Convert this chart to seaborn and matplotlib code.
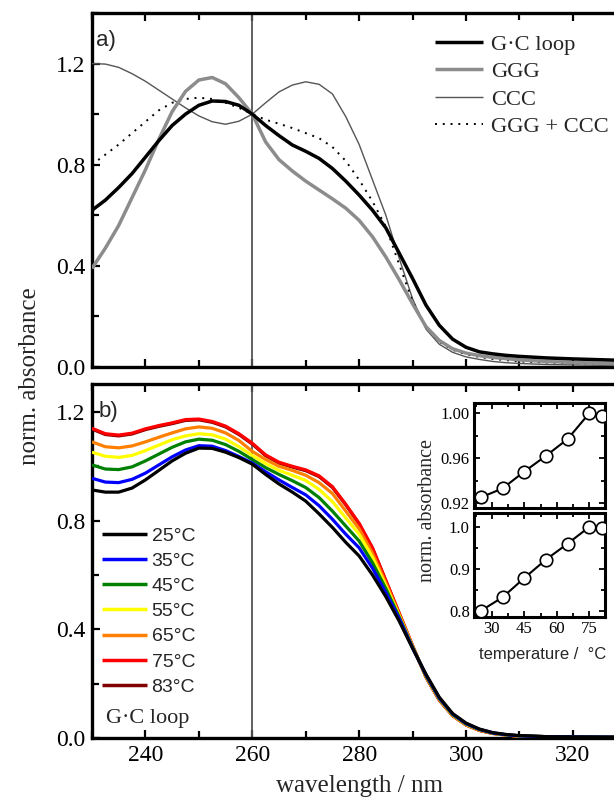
import matplotlib
matplotlib.use("Agg")
import matplotlib.pyplot as plt
import numpy as np
import pandas as pd
import seaborn as sns
from matplotlib.ticker import MultipleLocator, FormatStrFormatter
from matplotlib.lines import Line2D

# ---------------- data ----------------
WL = [230, 232.5, 235, 237.5, 240, 242.5, 245, 247.5, 250, 252.5, 255, 257.5,
      260, 262.5, 265, 267.5, 270, 272.5, 275, 277.5, 280, 282.5, 285, 287.5,
      290, 292.5, 295, 297.5, 300, 302.5, 305, 307.5, 310, 315, 320, 328]

# panel a)
GC_LOOP = [0.62, 0.66, 0.71, 0.765, 0.83, 0.895, 0.955, 1.0, 1.035, 1.052, 1.05, 1.035,
           1.0, 0.955, 0.915, 0.878, 0.853, 0.825, 0.785, 0.735, 0.68, 0.62, 0.55, 0.45,
           0.35, 0.245, 0.165, 0.11, 0.078, 0.06, 0.052, 0.046, 0.042, 0.036, 0.032, 0.027]
GGG = [0.39, 0.47, 0.56, 0.67, 0.78, 0.90, 1.01, 1.09, 1.135, 1.145, 1.12, 1.065,
       1.0, 0.89, 0.82, 0.775, 0.735, 0.70, 0.665, 0.628, 0.58, 0.515, 0.435, 0.345,
       0.25, 0.16, 0.105, 0.072, 0.055, 0.045, 0.038, 0.033, 0.028, 0.022, 0.018, 0.013]
CCC = [1.20, 1.198, 1.185, 1.16, 1.13, 1.095, 1.06, 1.025, 0.993, 0.97, 0.96, 0.972,
       1.0, 1.045, 1.088, 1.115, 1.128, 1.118, 1.08, 0.99, 0.88, 0.74, 0.60, 0.43,
       0.27, 0.15, 0.09, 0.058, 0.04, 0.03, 0.022, 0.017, 0.014, 0.01, 0.008, 0.006]
GGG_CCC = [0.80, 0.84, 0.88, 0.925, 0.97, 1.015, 1.045, 1.06, 1.065, 1.06, 1.045, 1.025,
           1.0, 0.978, 0.962, 0.945, 0.925, 0.905, 0.87, 0.815, 0.74, 0.655, 0.555, 0.405,
           0.26, 0.16, 0.1, 0.068, 0.05, 0.04, 0.032, 0.027, 0.022, 0.018, 0.015, 0.012]

# panel b)
TEMP_LABELS = ["25°C", "35°C", "45°C", "55°C", "65°C", "75°C", "83°C"]
T25 = [0.913, 0.905, 0.905, 0.92, 0.95, 0.985, 1.02, 1.048, 1.067, 1.066, 1.052, 1.032,
       1.008, 0.97, 0.935, 0.905, 0.872, 0.825, 0.775, 0.72, 0.67, 0.60, 0.52, 0.43,
       0.33, 0.235, 0.15, 0.09, 0.055, 0.033, 0.02, 0.013, 0.009, 0.005, 0.004, 0.003]
T35 = [0.956, 0.942, 0.94, 0.952, 0.975, 1.005, 1.035, 1.06, 1.076, 1.074, 1.058, 1.036,
       1.012, 0.98, 0.95, 0.922, 0.895, 0.855, 0.805, 0.75, 0.70, 0.625, 0.535, 0.44,
       0.332, 0.232, 0.147, 0.088, 0.053, 0.032, 0.019, 0.012, 0.008, 0.005, 0.004, 0.003]
T45 = [1.005, 0.99, 0.988, 0.998, 1.02, 1.045, 1.07, 1.09, 1.10, 1.096, 1.08, 1.055,
       1.025, 0.995, 0.97, 0.947, 0.922, 0.885, 0.835, 0.78, 0.725, 0.645, 0.55, 0.445,
       0.334, 0.23, 0.145, 0.086, 0.052, 0.031, 0.018, 0.012, 0.008, 0.005, 0.004, 0.003]
T55 = [1.052, 1.037, 1.033, 1.04, 1.058, 1.078, 1.098, 1.112, 1.12, 1.116, 1.10, 1.072,
       1.04, 1.01, 0.985, 0.967, 0.948, 0.915, 0.87, 0.81, 0.75, 0.665, 0.56, 0.45,
       0.336, 0.228, 0.143, 0.084, 0.05, 0.03, 0.018, 0.011, 0.007, 0.005, 0.004, 0.003]
T65 = [1.09, 1.072, 1.068, 1.075, 1.09, 1.107, 1.123, 1.138, 1.145, 1.14, 1.123, 1.095,
       1.055, 1.025, 1.0, 0.985, 0.967, 0.94, 0.90, 0.835, 0.77, 0.68, 0.57, 0.455,
       0.338, 0.226, 0.141, 0.083, 0.049, 0.029, 0.017, 0.011, 0.007, 0.005, 0.004, 0.003]
T75 = [1.14, 1.12, 1.115, 1.122, 1.138, 1.15, 1.16, 1.172, 1.174, 1.165, 1.148, 1.12,
       1.085, 1.042, 1.015, 1.0, 0.987, 0.965, 0.925, 0.86, 0.79, 0.70, 0.58, 0.46,
       0.34, 0.225, 0.14, 0.082, 0.048, 0.028, 0.017, 0.011, 0.007, 0.004, 0.003, 0.003]
T83 = [1.137, 1.117, 1.112, 1.119, 1.135, 1.147, 1.157, 1.169, 1.171, 1.162, 1.145, 1.117,
       1.082, 1.039, 1.012, 0.997, 0.984, 0.962, 0.922, 0.858, 0.788, 0.698, 0.578, 0.458,
       0.339, 0.224, 0.139, 0.082, 0.048, 0.028, 0.017, 0.011, 0.007, 0.004, 0.003, 0.003]
TEMP_COLORS = ["#000000", "#0000ff", "#008000", "#ffff00", "#ff8000", "#ff0000", "#800000"]

# insets
INSET_T = [25, 35, 45, 55, 65, 75, 81]
INSET_TOP = [0.925, 0.933, 0.948, 0.962, 0.977, 1.000, 0.997]
INSET_BOT = [0.800, 0.832, 0.878, 0.922, 0.960, 1.000, 0.998]

# ---------------- style ----------------
sns.set_theme(style="ticks")
SERIF = ["Liberation Serif", "DejaVu Serif"]
SANS = ["Liberation Sans", "DejaVu Sans"]
plt.rcParams["font.family"] = SERIF
plt.rcParams["axes.facecolor"] = "white"
plt.rcParams["figure.facecolor"] = "white"
plt.rcParams["lines.solid_joinstyle"] = "round"
plt.rcParams["lines.solid_capstyle"] = "butt"

W, H = 614, 798
fig = plt.figure(figsize=(W / 100, H / 100), dpi=100)


def frac_box(x0, y0, x1, y1):
    return [x0 / W, 1 - y1 / H, (x1 - x0) / W, (y1 - y0) / H]


ax1 = fig.add_axes(frac_box(92, 13, 614, 367))
ax2 = fig.add_axes(frac_box(92, 384, 614, 738))

for ax in (ax1, ax2):
    ax.set_xlim(230, 327.7)
    ax.xaxis.set_major_locator(MultipleLocator(20))
    ax.xaxis.set_minor_locator(MultipleLocator(10))
    ax.yaxis.set_major_locator(MultipleLocator(0.4))
    ax.yaxis.set_minor_locator(MultipleLocator(0.2))
    ax.yaxis.set_major_formatter(FormatStrFormatter("%.1f"))
    ax.tick_params(which="both", direction="in", top=True, right=False,
                   width=1.6, labelsize=17, pad=5, color="black", labelcolor="black")
    ax.tick_params(which="major", length=6)
    ax.tick_params(which="minor", length=5)
    for s in ("left", "bottom", "top"):
        ax.spines[s].set_linewidth(2.4)
        ax.spines[s].set_color("black")
    ax.spines["right"].set_visible(False)
    ax.axvline(260, color="#555555", lw=1.3, zorder=1)

ax1.set_ylim(0, 1.4)
ax2.set_ylim(0, 1.303)
ax1.tick_params(labelbottom=False)

# panel a)
df_a = pd.DataFrame({"wl": WL, "GC": GC_LOOP, "GGG": GGG, "CCC": CCC, "SUM": GGG_CCC})
sns.lineplot(data=df_a, x="wl", y="CCC", ax=ax1, color="#555555", lw=1.0, zorder=3)
sns.lineplot(data=df_a, x="wl", y="SUM", ax=ax1, color="black", lw=1.4,
             linestyle=(0, (1, 3)), zorder=3)
sns.lineplot(data=df_a, x="wl", y="GGG", ax=ax1, color="#8c8c8c", lw=2.5, zorder=4)
sns.lineplot(data=df_a, x="wl", y="GC", ax=ax1, color="black", lw=2.5, zorder=5)
ax1.set_xlabel("")
ax1.set_ylabel("")

handles_a = [Line2D([], [], color="black", lw=2.5),
             Line2D([], [], color="#8c8c8c", lw=2.5),
             Line2D([], [], color="#555555", lw=1.0),
             Line2D([], [], color="black", lw=1.4, linestyle=(0, (1, 3)))]
ax1.legend(handles_a, ["G·C loop", "GGG", "CCC", "GGG + CCC"],
           loc="upper left", bbox_to_anchor=((435 - 92) / 522, (367 - 34) / 354),
           frameon=False, handlelength=2.15, handletextpad=0.35,
           labelspacing=0.3, borderpad=0, borderaxespad=0,
           prop={"family": SERIF, "size": 16.2})
ax1.text(0.008, (367 - 40) / 354, "a)", transform=ax1.transAxes, family=SANS,
         fontsize=16, va="center", ha="left")

# panel b)
series_b = [T25, T35, T45, T55, T65, T75, T83]
rows = []
for lab, vals in zip(TEMP_LABELS, series_b):
    for w, v in zip(WL, vals):
        rows.append((w, v, lab))
df_b = pd.DataFrame(rows, columns=["wl", "A", "T"])
palette = dict(zip(TEMP_LABELS, TEMP_COLORS))
sns.lineplot(data=df_b, x="wl", y="A", hue="T", hue_order=TEMP_LABELS[::-1],
             palette=palette, lw=2.3, legend=False, ax=ax2, zorder=3)
ax2.set_xlabel("")
ax2.set_ylabel("")
handles_b = [Line2D([], [], color=c, lw=2.5) for c in TEMP_COLORS]
ax2.legend(handles_b, TEMP_LABELS, loc="upper left",
           bbox_to_anchor=((102 - 92) / 522, (738 - 527) / 354),
           frameon=False, handlelength=2.3, handletextpad=0.25,
           labelspacing=0.39, borderpad=0, borderaxespad=0,
           prop={"family": SANS, "size": 14})
ax2.text((106 - 92) / 522, (738 - 718) / 354, "G·C loop", transform=ax2.transAxes,
         family=SERIF, fontsize=16, va="center", ha="left")
ax2.text(0.012, (738 - 412) / 354, "b)", transform=ax2.transAxes, family=SANS,
         fontsize=16, va="center", ha="left")

fig.text(30 / W, 1 - 376 / H, "norm. absorbance", rotation=90, ha="center",
         va="center", family=SERIF, fontsize=18)
fig.text(359 / W, 1 - 786 / H, "wavelength / nm", ha="center", va="center",
         family=SERIF, fontsize=18)

# insets
axi1 = fig.add_axes(frac_box(474, 403, 605, 507.5))
axi2 = fig.add_axes(frac_box(474, 513, 605, 617))
for axi, vals in ((axi1, INSET_TOP), (axi2, INSET_BOT)):
    axi.set_facecolor("white")
    sns.lineplot(x=INSET_T, y=vals, ax=axi, color="black", lw=1.5, marker="o",
                 markersize=9, markerfacecolor="white", markeredgecolor="black",
                 markeredgewidth=1.2, zorder=3)
    axi.set_xlim(21.8, 82.2)
    axi.xaxis.set_major_locator(MultipleLocator(15))
    axi.xaxis.set_minor_locator(MultipleLocator(7.5))
    axi.tick_params(which="both", direction="in", top=True, right=True,
                    width=1.3, labelsize=12, pad=3, color="black", labelcolor="black")
    axi.tick_params(which="major", length=4)
    axi.tick_params(which="minor", length=3)
    for s in axi.spines.values():
        s.set_linewidth(2.2)
        s.set_color("black")
    axi.set_xlabel("")
    axi.set_ylabel("")

axi1.set_ylim(0.916, 1.009)
axi1.yaxis.set_major_locator(MultipleLocator(0.04))
axi1.yaxis.set_minor_locator(MultipleLocator(0.02))
axi1.yaxis.set_major_formatter(FormatStrFormatter("%.2f"))
axi1.tick_params(labelbottom=False)

axi2.set_ylim(0.785, 1.033)
axi2.yaxis.set_major_locator(MultipleLocator(0.1))
axi2.yaxis.set_minor_locator(MultipleLocator(0.05))
axi2.yaxis.set_major_formatter(FormatStrFormatter("%.1f"))

fig.text(428 / W, 1 - 510 / H, "norm. absorbance", rotation=90, ha="center",
         va="center", family=SERIF, fontsize=14.5)
fig.text(543 / W, 1 - 654 / H, "temperature /  °C", ha="center", va="center",
         family=SANS, fontsize=12)

fig.savefig("out.png", dpi=100)
